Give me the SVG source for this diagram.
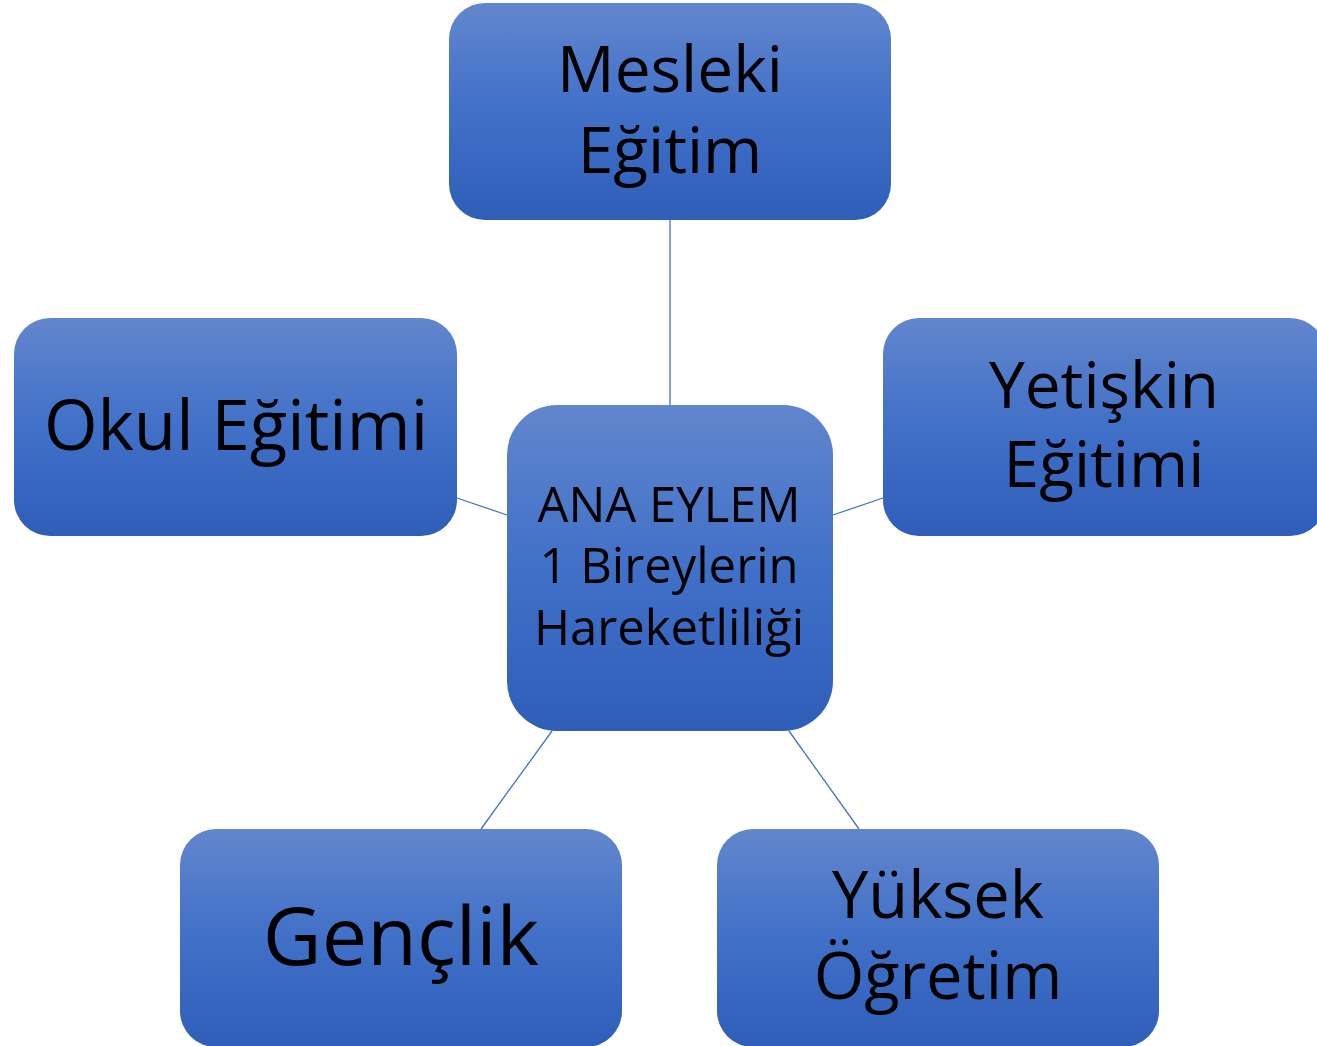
<svg xmlns="http://www.w3.org/2000/svg" width="1317" height="1046" viewBox="0 0 1317 1046">
<defs>
<linearGradient id="g" x1="0" y1="0" x2="0" y2="1">
<stop offset="0" stop-color="#6286cd"/>
<stop offset="0.5" stop-color="#4070c8"/>
<stop offset="1" stop-color="#2e5eb8"/>
</linearGradient>
<style>
.box{fill:url(#g);}
.t{font-family:"Open Sans","Noto Sans",sans-serif;fill:#000;text-anchor:middle;}
.c{stroke:#4472c4;stroke-width:1.3;fill:none;}
</style>
</defs>
<rect width="1317" height="1046" fill="#fff"/>
<g id="connectors">
<line class="c" x1="670" y1="220" x2="670" y2="405"/>
<line class="c" x1="457" y1="498" x2="507" y2="515"/>
<line class="c" x1="833" y1="515" x2="883" y2="498"/>
<line class="c" x1="552" y1="731" x2="481" y2="829"/>
<line class="c" x1="789" y1="731" x2="859" y2="829"/>
</g>
<g id="mesleki">
<rect class="box" x="449" y="3" width="442" height="217" rx="36"/>
<text class="t" x="670" y="92" font-size="64">Mesleki</text>
<text class="t" x="670" y="173" font-size="64">Eğitim</text>
</g>
<g id="okul">
<rect class="box" x="14" y="318" width="443" height="218" rx="36"/>
<text class="t" x="236" y="450" font-size="69">Okul Eğitimi</text>
</g>
<g id="yetiskin">
<rect class="box" x="883" y="318" width="443" height="218" rx="36"/>
<text class="t" x="1104" y="408" font-size="64">Yetişkin</text>
<text class="t" x="1104" y="487" font-size="64">Eğitimi</text>
</g>
<g id="ana">
<rect class="box" x="507" y="405" width="326" height="326" rx="50"/>
<text class="t" x="669" y="522" font-size="49">ANA EYLEM</text>
<text class="t" x="669" y="583" font-size="49">1 Bireylerin</text>
<text class="t" x="669" y="645" font-size="49">Hareketliliği</text>
</g>
<g id="genclik">
<rect class="box" x="180" y="829" width="442" height="218" rx="36"/>
<text class="t" x="401" y="965" font-size="81">Gençlik</text>
</g>
<g id="yuksek">
<rect class="box" x="717" y="829" width="442" height="218" rx="36"/>
<text class="t" x="938" y="918" font-size="65">Yüksek</text>
<text class="t" x="938" y="999" font-size="65">Öğretim</text>
</g>
</svg>
